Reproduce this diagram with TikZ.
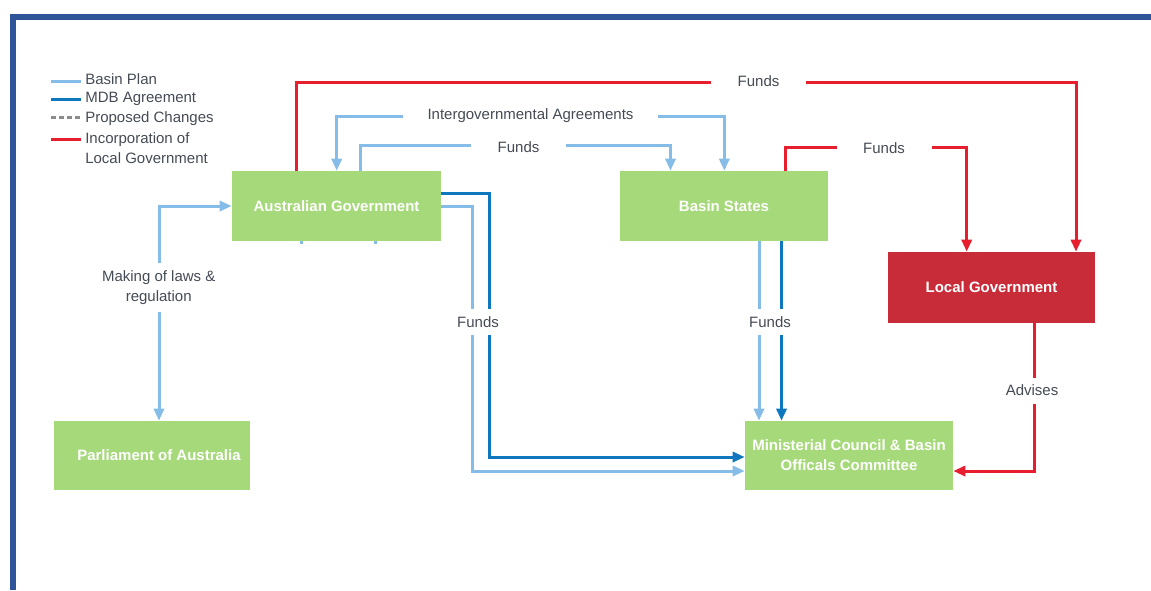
\documentclass[tikz,border=0pt]{standalone}
\usepackage{fontspec}
\setmainfont{Liberation Sans}
\usetikzlibrary{arrows.meta}
\definecolor{boxgreen}{HTML}{A6D97A}
\definecolor{boxred}{HTML}{C92C39}
\definecolor{linered}{HTML}{E61E2D}
\definecolor{lightblue}{HTML}{85BDE8}
\definecolor{darkblue}{HTML}{0F77BD}
\definecolor{labelgray}{HTML}{454B55}
\definecolor{framecol}{HTML}{2E5597}
\definecolor{dashgray}{HTML}{8C8C8C}
\tikzset{
  tri/.tip={Triangle[length=9pt,width=7.5pt]},
  lbline/.style={draw=lightblue,line width=2.25pt},
  dbline/.style={draw=darkblue,line width=2.25pt},
  rdline/.style={draw=linered,line width=2.25pt},
  gbox/.style={fill=boxgreen,text=white,font=\fontsize{11.25}{15}\selectfont\bfseries,
    inner sep=0pt,minimum height=52.5pt,align=center},
  rbox/.style={gbox,fill=boxred},
  lbl/.style={fill=white,text=labelgray,font=\fontsize{11.25}{15}\selectfont,
    inner sep=0pt,minimum width=71.25pt,minimum height=19.5pt,align=center},
  legtext/.style={text=labelgray,font=\fontsize{11.25}{15}\selectfont,
    inner sep=0pt,anchor=west,align=left}
}
\begin{document}
\begin{tikzpicture}[x=0.75pt,y=-0.75pt]
\useasboundingbox (0,0) rectangle (1151,590);
% frame
\fill[framecol] (10,14) rectangle (1151,20);
\fill[framecol] (10,14) rectangle (16,590);

% legend
\draw[lbline] (51,81) -- (81,81);
\draw[dbline] (51,99) -- (81,99);
\draw[draw=dashgray,line width=2.25pt,dash pattern=on 3.75pt off 2.25pt] (51,117) -- (81,117);
\draw[rdline] (51,139) -- (81,139);
\node[legtext] (lg1) at (85,79) {Basin Plan};
\node[legtext] (lg2) at (85,98.7) {MDB Agreement};
\node[legtext] (lg3) at (85,119) {Proposed Changes};
\node[legtext] (lg4) at (85,148.5) {Incorporation of\\Local Government};

% boxes
\node[gbox,minimum width=156.75pt] (aus) at (336.5,206) {Australian Government};
\node[gbox,minimum width=156pt] (bs) at (724,206) {Basin States};
\node[rbox,minimum width=155.25pt,minimum height=53.25pt] (lg) at (991.5,287.5) {Local Government};
\node[gbox,minimum width=147pt,minimum height=51.75pt] (pa) at (152,455.5) {\hspace*{10.5pt}Parliament of Australia};
\node[gbox,minimum width=156pt,minimum height=51.75pt] (mc) at (849,455.5) {Ministerial Council \& Basin\\Officals Committee};

% stubs under Australian Government
\draw[lbline] (aus.south -| 301,0) -- ++(0,3);
\draw[lbline] (aus.south -| 375,0) -- ++(0,3);

% connectors
\draw[rdline,-tri] (aus.north -| 296,0) |- (1076,82.7) -- (lg.north -| 1076,0);
\draw[lbline,tri-tri] (aus.north -| 336.7,0) |- (724.3,116.7) -- (bs.north -| 724.3,0);
\draw[lbline,-tri] (aus.north -| 360,0) |- (670.5,145.7) -- (bs.north -| 670.5,0);
\draw[rdline,-tri] (bs.north -| 785.7,0) |- (966.7,147.7) -- (lg.north -| 966.7,0);
\draw[lbline,tri-tri] (aus.west) -| (pa.north -| 159,0);
\draw[dbline,-tri] (aus.east |- 0,193) -| (489,457) -- (mc.west |- 0,457);
\draw[lbline,-tri] (aus.east |- 0,206) -| (472,471) -- (mc.west |- 0,471);
\draw[lbline,-tri] (bs.south -| 759,0) -- (mc.north -| 759,0);
\draw[dbline,-tri] (bs.south -| 781.5,0) -- (mc.north -| 781.5,0);
\draw[rdline,-tri] (lg.south -| 1034,0) |- (mc.east |- 0,471);

% labels
\node[lbl] (l1) at (758.5,81.5) {Funds};
\node[lbl,minimum width=191.25pt] (l2) at (530.5,116) {Intergovernmental Agreements};
\node[lbl] (l3) at (518.5,147.5) {Funds};
\node[lbl] (l4) at (884,148.5) {Funds};
\node[lbl,minimum width=0pt,minimum height=36.75pt] (l5) at (158.7,287.5) {Making of laws \&\\regulation};
\node[lbl,minimum width=0pt] (l6) at (478,322) {Funds};
\node[lbl,minimum width=0pt] (l7) at (770,322) {Funds};
\node[lbl,minimum width=0pt] (l8) at (1032,390.5) {Advises};
\end{tikzpicture}
\end{document}
